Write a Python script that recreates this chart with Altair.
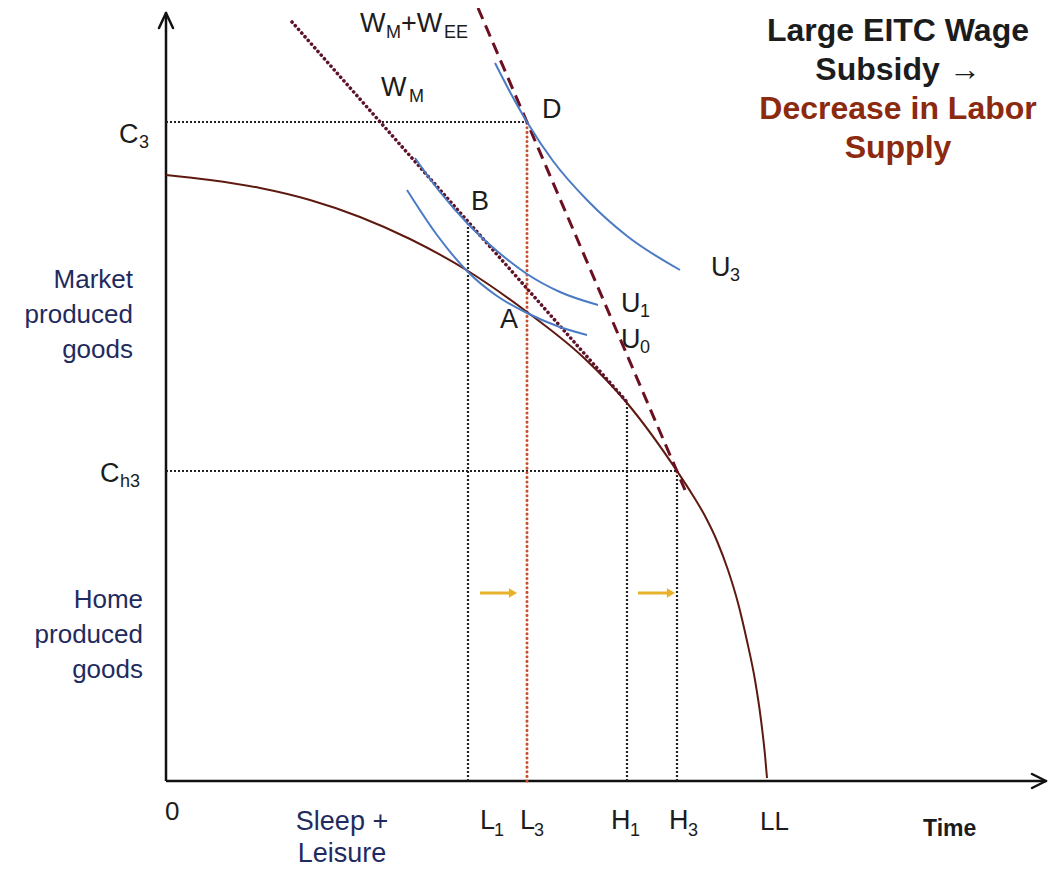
import altair as alt
import pandas as pd

# ---------------- data (x = time, y = goods; origin at the axes corner) ----------------
ppf_x = [0, 44, 94, 144, 194, 244, 302, 361, 417, 461, 511, 526, 539, 551, 562, 572, 581, 589, 595, 599, 601]
ppf_y = [606, 601, 593, 581, 564, 542, 510, 469, 424, 378, 310, 287, 265, 240, 211, 178, 140, 101, 61, 26, 3]

u0_x = [241, 271, 302, 331, 361, 391, 421]
u0_y = [591, 546, 509, 485, 468, 455, 446]
u1_x = [249, 274, 302, 331, 361, 394, 432]
u1_y = [623, 589, 557, 530, 507, 489, 476]
u3_x = [329, 344, 361, 387, 421, 461, 514]
u3_y = [718, 689, 659, 620, 581, 545, 511]

wm_line = [126, 759, 461, 379]          # x, y, x2, y2
wmee_line = [312, 773, 519, 291]

L1, L3, H1, H3 = 302, 361, 461, 511
C3, CH3 = 659, 310
B_y, H1_y = 559, 378

arrow_y = 188
arrow_from = [314, 472]
arrow_to = [346, 504]

X_DOM = [-158, 882]
Y_DOM = [-88, 773]

FONT = "Liberation Sans"
DARK = "#1c1c1c"
NAVY = "#1f2b5e"
RED = "#8c2a10"
PPF_C = "#5e1a10"
BLUE = "#4a7bc4"
GOLD = "#e8b12a"

xs = alt.Scale(domain=X_DOM, nice=False, zero=False)
ys = alt.Scale(domain=Y_DOM, nice=False, zero=False)


def X(f="x"):
    return alt.X(f"{f}:Q", scale=xs, axis=None)


def Y(f="y"):
    return alt.Y(f"{f}:Q", scale=ys, axis=None)


def curve(xv, yv, color, width):
    df = pd.DataFrame({"x": xv, "y": yv, "i": list(range(len(xv)))})
    return alt.Chart(df).mark_line(color=color, strokeWidth=width, interpolate="monotone").encode(
        x=X(), y=Y(), order="i:Q")


def segs(rows, **style):
    df = pd.DataFrame(rows, columns=["x", "y", "x2", "y2"])
    return alt.Chart(df).mark_rule(**style).encode(
        x=X(), y=Y(), x2=alt.X2("x2:Q"), y2=alt.Y2("y2:Q"))


layers = []

# axes
layers.append(segs([[0, 0, 0, 767], [0, 0, 879, 0]], color="#111111", strokeWidth=2.5))
layers.append(segs([[-7, 753, 0, 768], [7, 753, 0, 768], [866, 7, 880, 0], [866, -7, 880, 0]],
                   color="#111111", strokeWidth=2.5, strokeCap="round"))

# black dotted guides
layers.append(segs([[0, C3, L3, C3], [0, CH3, H3, CH3], [L1, 0, L1, B_y], [H1, 0, H1, H1_y], [H3, 0, H3, CH3]],
                   color="#222222", strokeWidth=2.2, strokeDash=[2, 2]))
# red dotted L3
layers.append(segs([[L3, 0, L3, C3]], color="#c8502d", strokeWidth=3, strokeDash=[0.1, 4.5], strokeCap="round"))

# PPF
layers.append(curve(ppf_x, ppf_y, PPF_C, 2))
# budget lines
layers.append(segs([wm_line], color="#5e1428", strokeWidth=3.6, strokeDash=[0.1, 4.8], strokeCap="round"))
layers.append(segs([wmee_line], color="#6a1020", strokeWidth=3, strokeDash=[12, 7]))
# indifference curves
layers.append(curve(u0_x, u0_y, BLUE, 2))
layers.append(curve(u1_x, u1_y, BLUE, 2))
layers.append(curve(u3_x, u3_y, BLUE, 2))

# gold arrows
layers.append(segs([[a, arrow_y, b, arrow_y] for a, b in zip(arrow_from, arrow_to)], color=GOLD, strokeWidth=3))
head_df = pd.DataFrame({"x": [b + 1 for b in arrow_to], "y": [arrow_y, arrow_y]})
layers.append(alt.Chart(head_df).mark_point(shape="triangle-right", filled=True, size=90, color=GOLD,
                                            opacity=1).encode(x=X(), y=Y()))

# left-aligned labels (main letters + subscripts)
lab_text = ["W", "M", "+W", "EE", "W", "M", "D", "B", "A",
            "U", "1", "U", "0", "U", "3", "C", "3", "C", "h3", "0",
            "L", "1", "L", "3", "H", "1", "H", "3", "LL"]
lab_x = [194, 220, 235, 278, 215, 243, 376, 305, 334,
         455, 474, 455, 474, 545, 564, -47, -27, -66, -46, -1,
         314, 328, 354, 368, 445, 464, 503, 522, 594]
lab_y = [749, 743, 749, 743, 685, 679, 663, 571, 453,
         469, 464, 433, 428, 505, 500, 638, 633, 299, 294, -39,
         -48, -55, -48, -55, -48, -55, -48, -55, -49]
lab_size = [27, 18, 27, 18, 27, 18, 27, 27, 27,
            27, 18, 27, 18, 27, 18, 27, 18, 27, 18, 26,
            27, 18, 27, 18, 27, 18, 27, 18, 26]
lab_df = pd.DataFrame({"t": lab_text, "x": lab_x, "y": lab_y, "s": lab_size})
layers.append(alt.Chart(lab_df).mark_text(align="left", baseline="alphabetic", font=FONT, color=DARK).encode(
    x=X(), y=Y(), text="t:N", size=alt.Size("s:Q", scale=None, legend=None)))

# navy axis descriptions
navy_df = pd.DataFrame({"t": ["Market\nproduced\ngoods", "Home\nproduced\ngoods"],
                        "x": [-33, -23], "y": [493, 173]})
layers.append(alt.Chart(navy_df).mark_text(align="right", baseline="alphabetic", font=FONT, fontSize=26,
                                           color=NAVY, lineBreak="\n", lineHeight=35).encode(
    x=X(), y=Y(), text="t:N"))
sl_df = pd.DataFrame({"t": ["Sleep +\nLeisure"], "x": [176], "y": [-49]})
layers.append(alt.Chart(sl_df).mark_text(align="center", baseline="alphabetic", font=FONT, fontSize=27,
                                         color=NAVY, lineBreak="\n", lineHeight=32).encode(
    x=X(), y=Y(), text="t:N"))

# "Time"
time_df = pd.DataFrame({"t": ["Time"], "x": [757], "y": [-55]})
layers.append(alt.Chart(time_df).mark_text(align="left", baseline="alphabetic", font=FONT, fontSize=23,
                                           fontWeight="bold", color=DARK).encode(x=X(), y=Y(), text="t:N"))

# title block
title_lines = ["Large EITC Wage", "Subsidy \u2192", "Decrease in Labor", "Supply"]
title_y = [740, 701, 662, 623]
title_col = [DARK, DARK, RED, RED]
title_df = pd.DataFrame({"t": title_lines, "x": [732] * 4, "y": title_y, "c": title_col})
layers.append(alt.Chart(title_df).mark_text(align="center", baseline="alphabetic", font=FONT, fontSize=32,
                                            fontWeight="bold").encode(
    x=X(), y=Y(), text="t:N", color=alt.Color("c:N", scale=None, legend=None)))

chart = alt.layer(*layers).properties(
    width=1040, height=861, padding=0, autosize=alt.AutoSizeParams(type="none"),
    background="white"
).configure_view(stroke=None)

chart.save("out.html", embed_options={"renderer": "svg", "actions": False})
